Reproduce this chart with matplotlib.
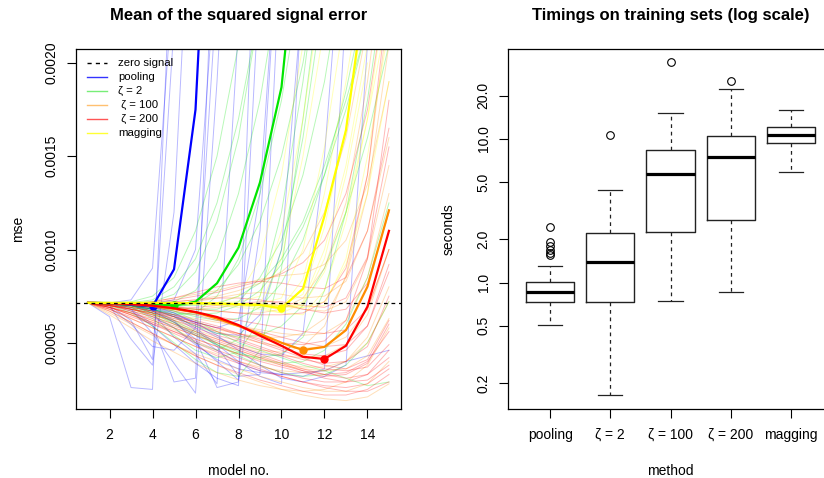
import numpy as np
import matplotlib
matplotlib.use("Agg")
import matplotlib.pyplot as plt

plt.rcParams['font.family'] = ['Liberation Sans', 'DejaVu Sans']

# ---- left panel: mean squared signal error per model number ----
zero_signal = 7.14e-4

pooling_mean = [7.14e-4, 7.12e-4, 7.05e-4, 6.95e-4, 8.94e-4, 1.75e-3, 4.0e-3]
zeta2_mean = [7.14e-4, 7.13e-4, 7.1e-4, 7.07e-4, 7.0e-4, 7.2e-4, 8.19e-4, 1.01e-3,
              1.36e-3, 1.87e-3, 3.0e-3]
zeta100_mean = [7.14e-4, 7.12e-4, 7.08e-4, 6.98e-4, 6.82e-4, 6.63e-4, 6.3e-4, 5.9e-4,
                5.48e-4, 5.0e-4, 4.61e-4, 4.78e-4, 5.68e-4, 8.01e-4, 1.21e-3]
zeta200_mean = [7.14e-4, 7.12e-4, 7.08e-4, 6.99e-4, 6.85e-4, 6.65e-4, 6.38e-4, 5.95e-4,
                5.38e-4, 4.84e-4, 4.25e-4, 4.13e-4, 4.84e-4, 6.94e-4, 1.10e-3]
magging_mean = [7.14e-4, 7.14e-4, 7.14e-4, 7.14e-4, 7.13e-4, 7.12e-4, 7.1e-4, 7.07e-4,
                7.02e-4, 6.85e-4, 7.9e-4, 1.18e-3, 1.64e-3, 2.5e-3]

# single training runs (thin lines)
pooling_runs = [
    [7.14e-4, 6.4e-4, 2.6e-4, 2.5e-4, 3.0e-3],
    [7.14e-4, 7.0e-4, 5.2e-4, 3.8e-4, 1.2e-3, 3.5e-3],
    [7.14e-4, 7.1e-4, 6.8e-4, 5.5e-4, 3.9e-4, 2.3e-4, 1.9e-3, 4.0e-3],
    [7.14e-4, 7.1e-4, 7.0e-4, 6.6e-4, 5.3e-4, 4.4e-4, 2.8e-4, 2.2e-3],
    [7.14e-4, 7.1e-4, 7.0e-4, 6.8e-4, 6.2e-4, 5.0e-4, 4.0e-4, 3.0e-4, 1.1e-3, 3.0e-3],
    [7.14e-4, 7.1e-4, 7.05e-4, 6.9e-4, 6.5e-4, 5.8e-4, 4.9e-4, 4.0e-4, 3.2e-4, 2.8e-4, 2.5e-3],
    [7.14e-4, 7.1e-4, 6.9e-4, 6.4e-4, 5.8e-4, 4.9e-4, 4.1e-4, 3.6e-4, 3.4e-4, 3.3e-4,
     3.4e-4, 3.5e-4, 4.0e-4, 4.3e-4, 4.6e-4],
    [7.14e-4, 7.14e-4, 7.3e-4, 9.0e-4, 2.5e-3],
    [7.14e-4, 6.9e-4, 6.0e-4, 4.8e-4, 4.6e-4, 5.8e-4, 2.4e-3],
    [7.14e-4, 7.14e-4, 7.1e-4, 7.0e-4, 6.6e-4, 6.0e-4, 5.5e-4, 5.4e-4, 6.5e-4, 1.0e-3, 2.4e-3],
    [7.14e-4, 7.1e-4, 7.0e-4, 6.7e-4, 6.1e-4, 5.4e-4, 4.6e-4, 3.9e-4, 3.5e-4, 3.3e-4,
     3.2e-4, 3.6e-4, 2.3e-3],
    [7.14e-4, 7.0e-4, 6.2e-4, 4.1e-4, 2.2e-3],
    [7.14e-4, 7.1e-4, 6.8e-4, 6.0e-4, 2.9e-4, 3.1e-4, 3.2e-3],
    [7.14e-4, 7.1e-4, 7.0e-4, 6.7e-4, 6.1e-4, 5.2e-4, 2.6e-4, 2.9e-4, 3.6e-3],
    [7.14e-4, 7.1e-4, 7.0e-4, 6.8e-4, 6.4e-4, 5.7e-4, 4.8e-4, 3.2e-4, 3.3e-4, 2.7e-3],
    [7.14e-4, 7.1e-4, 7.05e-4, 6.9e-4, 6.6e-4, 6.1e-4, 5.4e-4, 4.6e-4, 3.8e-4, 3.1e-4,
     2.9e-4, 3.2e-4, 3.8e-4, 2.1e-3],
    [7.14e-4, 7.14e-4, 7.1e-4, 7.1e-4, 7.3e-4, 1.0e-3, 2.6e-3],
    [7.14e-4, 7.1e-4, 7.0e-4, 6.8e-4, 6.5e-4, 6.1e-4, 5.8e-4, 6.2e-4, 1.3e-3, 3.0e-3],
    [7.14e-4, 7.1e-4, 7.0e-4, 6.8e-4, 6.4e-4, 5.9e-4, 5.3e-4, 4.8e-4, 4.4e-4, 4.3e-4,
     5.5e-4, 1.5e-3, 3.0e-3],
    [7.14e-4, 7.05e-4, 6.7e-4, 5.9e-4, 4.9e-4, 3.9e-4, 3.1e-4, 2.7e-4, 2.5e-3],
]

zeta2_runs = [
    [7.14e-4, 7.1e-4, 7.1e-4, 7.2e-4, 7.6e-4, 8.8e-4, 1.15e-3, 1.6e-3, 2.3e-3],
    [7.14e-4, 7.1e-4, 7.0e-4, 6.8e-4, 6.5e-4, 6.6e-4, 7.5e-4, 9.5e-4, 1.3e-3, 1.8e-3, 2.5e-3],
    [7.14e-4, 7.1e-4, 6.9e-4, 6.5e-4, 5.8e-4, 5.0e-4, 4.6e-4, 5.2e-4, 7.5e-4, 1.2e-3,
     1.9e-3, 2.8e-3],
    [7.14e-4, 7.14e-4, 7.1e-4, 7.0e-4, 6.9e-4, 6.8e-4, 6.8e-4, 7.2e-4, 8.5e-4, 1.05e-3,
     1.4e-3, 1.9e-3, 2.6e-3],
    [7.14e-4, 7.1e-4, 7.0e-4, 6.6e-4, 6.0e-4, 5.4e-4, 4.9e-4, 4.4e-4, 4.2e-4, 4.4e-4,
     5.3e-4, 7.8e-4, 1.2e-3, 1.8e-3, 2.6e-3],
    [7.14e-4, 7.1e-4, 7.1e-4, 7.0e-4, 6.7e-4, 6.2e-4, 5.6e-4, 5.0e-4, 4.6e-4, 4.2e-4,
     3.8e-4, 3.5e-4, 3.1e-4, 2.7e-4, 2.9e-4],
    [7.14e-4, 7.14e-4, 7.2e-4, 7.5e-4, 8.5e-4, 1.1e-3, 1.5e-3, 2.1e-3],
    [7.14e-4, 7.1e-4, 7.0e-4, 6.9e-4, 6.7e-4, 6.4e-4, 6.2e-4, 6.3e-4, 6.9e-4, 8.2e-4,
     1.05e-3, 1.4e-3, 1.85e-3, 2.4e-3],
    [7.14e-4, 7.0e-4, 6.6e-4, 5.9e-4, 5.0e-4, 4.1e-4, 3.4e-4, 3.2e-4, 4.6e-4, 9.0e-4,
     1.7e-3, 2.6e-3],
    [7.14e-4, 7.1e-4, 7.1e-4, 7.1e-4, 7.0e-4, 7.0e-4, 7.1e-4, 7.5e-4, 8.2e-4, 9.5e-4,
     1.15e-3, 1.45e-3, 1.8e-3, 2.2e-3],
    [7.14e-4, 7.1e-4, 7.0e-4, 6.8e-4, 6.4e-4, 5.9e-4, 5.5e-4, 5.3e-4, 5.4e-4, 5.9e-4,
     7.0e-4, 9.0e-4, 1.2e-3, 1.6e-3, 2.1e-3],
    [7.14e-4, 7.14e-4, 7.1e-4, 7.1e-4, 7.2e-4, 7.8e-4, 9.5e-4, 1.3e-3, 1.8e-3, 2.5e-3],
    [7.14e-4, 7.1e-4, 7.0e-4, 6.7e-4, 6.2e-4, 5.6e-4, 5.0e-4, 4.5e-4, 4.1e-4, 3.9e-4,
     4.0e-4, 4.6e-4, 6.0e-4, 8.5e-4, 1.25e-3],
    [7.14e-4, 7.1e-4, 6.9e-4, 6.3e-4, 5.4e-4, 4.6e-4, 4.2e-4, 4.5e-4, 6.2e-4, 1.0e-3,
     1.6e-3, 2.4e-3],
    [7.14e-4, 7.1e-4, 7.0e-4, 6.9e-4, 6.9e-4, 7.1e-4, 7.8e-4, 9.2e-4, 1.15e-3, 1.5e-3,
     2.0e-3, 2.7e-3],
    [7.14e-4, 7.14e-4, 7.15e-4, 7.3e-4, 8.0e-4, 9.5e-4, 1.25e-3, 1.7e-3, 2.3e-3],
    [7.14e-4, 7.1e-4, 7.0e-4, 6.8e-4, 6.6e-4, 6.5e-4, 6.6e-4, 7.0e-4, 7.8e-4, 9.2e-4,
     1.12e-3, 1.4e-3, 1.75e-3, 2.2e-3],
    [7.14e-4, 7.1e-4, 6.95e-4, 6.6e-4, 6.1e-4, 5.5e-4, 4.9e-4, 4.3e-4, 3.8e-4, 3.4e-4,
     3.2e-4, 3.3e-4, 3.8e-4, 5.0e-4, 7.2e-4],
]

zeta100_runs = [
    [7.14e-4, 7.0e-4, 6.8e-4, 6.5e-4, 6.2e-4, 5.9e-4, 5.6e-4, 5.3e-4, 5.0e-4, 4.8e-4,
     4.7e-4, 4.8e-4, 5.3e-4, 6.8e-4, 1.0e-3],
    [7.14e-4, 6.8e-4, 6.3e-4, 5.8e-4, 5.3e-4, 4.8e-4, 4.4e-4, 4.0e-4, 3.7e-4, 3.5e-4,
     3.4e-4, 3.5e-4, 4.0e-4, 5.3e-4, 8.0e-4],
    [7.14e-4, 7.1e-4, 7.0e-4, 7.0e-4, 7.1e-4, 7.2e-4, 7.4e-4, 7.6e-4, 7.7e-4, 7.6e-4,
     7.4e-4, 7.5e-4, 8.3e-4, 1.1e-3, 1.6e-3],
    [7.14e-4, 6.6e-4, 6.0e-4, 5.4e-4, 4.9e-4, 4.4e-4, 4.0e-4, 3.6e-4, 3.2e-4, 2.9e-4,
     2.6e-4, 2.4e-4, 2.4e-4, 2.8e-4, 4.0e-4],
    [7.14e-4, 7.0e-4, 6.9e-4, 6.7e-4, 6.5e-4, 6.3e-4, 6.1e-4, 5.9e-4, 5.7e-4, 5.5e-4,
     5.4e-4, 5.5e-4, 6.2e-4, 8.5e-4, 1.3e-3],
    [7.14e-4, 6.9e-4, 6.5e-4, 6.1e-4, 5.7e-4, 5.2e-4, 4.8e-4, 4.4e-4, 4.1e-4, 3.8e-4,
     3.6e-4, 3.5e-4, 3.6e-4, 4.3e-4, 6.3e-4],
    [7.14e-4, 7.1e-4, 7.0e-4, 6.9e-4, 6.8e-4, 6.8e-4, 6.9e-4, 7.0e-4, 7.1e-4, 7.0e-4,
     6.8e-4, 6.7e-4, 7.2e-4, 9.5e-4, 1.45e-3],
    [7.14e-4, 6.7e-4, 6.1e-4, 5.5e-4, 4.9e-4, 4.3e-4, 3.8e-4, 3.3e-4, 2.9e-4, 2.5e-4,
     2.2e-4, 2.0e-4, 1.9e-4, 2.1e-4, 2.8e-4],
    [7.14e-4, 7.0e-4, 6.7e-4, 6.4e-4, 6.0e-4, 5.6e-4, 5.2e-4, 4.8e-4, 4.5e-4, 4.3e-4,
     4.2e-4, 4.3e-4, 4.9e-4, 6.5e-4, 1.0e-3],
    [7.14e-4, 7.1e-4, 7.1e-4, 7.2e-4, 7.4e-4, 7.6e-4, 7.8e-4, 8.1e-4, 8.4e-4, 8.6e-4,
     8.7e-4, 9.2e-4, 1.05e-3, 1.35e-3, 1.9e-3],
    [7.14e-4, 6.9e-4, 6.6e-4, 6.2e-4, 5.8e-4, 5.4e-4, 5.0e-4, 4.6e-4, 4.2e-4, 3.9e-4,
     3.7e-4, 3.7e-4, 4.0e-4, 5.0e-4, 7.2e-4],
    [7.14e-4, 7.0e-4, 6.8e-4, 6.6e-4, 6.3e-4, 6.0e-4, 5.7e-4, 5.5e-4, 5.3e-4, 5.3e-4,
     5.5e-4, 6.3e-4, 8.5e-4, 1.3e-3, 2.1e-3],
    [7.14e-4, 6.5e-4, 5.8e-4, 5.1e-4, 4.5e-4, 3.9e-4, 3.4e-4, 3.0e-4, 2.7e-4, 2.5e-4,
     2.4e-4, 2.5e-4, 2.9e-4, 3.8e-4, 5.8e-4],
    [7.14e-4, 7.1e-4, 7.05e-4, 7.0e-4, 6.9e-4, 6.8e-4, 6.7e-4, 6.6e-4, 6.6e-4, 6.8e-4,
     7.4e-4, 9.0e-4, 1.25e-3, 1.9e-3, 2.8e-3],
    [7.14e-4, 7.0e-4, 6.8e-4, 6.5e-4, 6.1e-4, 5.7e-4, 5.3e-4, 4.9e-4, 4.6e-4, 4.5e-4,
     4.8e-4, 5.9e-4, 8.6e-4, 1.4e-3, 2.3e-3],
    [7.14e-4, 7.1e-4, 7.1e-4, 7.1e-4, 7.2e-4, 7.3e-4, 7.5e-4, 7.8e-4, 8.2e-4, 8.8e-4,
     9.8e-4, 1.2e-3, 1.6e-3, 2.2e-3],
]

zeta200_runs = [
    [7.14e-4, 7.0e-4, 6.8e-4, 6.6e-4, 6.3e-4, 6.0e-4, 5.6e-4, 5.2e-4, 4.8e-4, 4.4e-4,
     4.1e-4, 3.9e-4, 4.0e-4, 4.8e-4, 7.5e-4],
    [7.14e-4, 6.9e-4, 6.5e-4, 6.1e-4, 5.6e-4, 5.1e-4, 4.6e-4, 4.2e-4, 3.8e-4, 3.4e-4,
     3.1e-4, 2.9e-4, 2.9e-4, 3.3e-4, 4.6e-4],
    [7.14e-4, 7.1e-4, 7.1e-4, 7.1e-4, 7.2e-4, 7.3e-4, 7.4e-4, 7.4e-4, 7.3e-4, 7.1e-4,
     6.8e-4, 6.6e-4, 6.8e-4, 8.2e-4, 1.2e-3],
    [7.14e-4, 7.0e-4, 6.7e-4, 6.4e-4, 6.0e-4, 5.6e-4, 5.2e-4, 4.8e-4, 4.4e-4, 4.0e-4,
     3.6e-4, 3.3e-4, 3.1e-4, 3.3e-4, 4.2e-4],
    [7.14e-4, 7.1e-4, 7.0e-4, 6.9e-4, 6.8e-4, 6.6e-4, 6.4e-4, 6.2e-4, 6.0e-4, 5.8e-4,
     5.6e-4, 5.5e-4, 5.7e-4, 6.8e-4, 1.0e-3],
    [7.14e-4, 6.8e-4, 6.3e-4, 5.8e-4, 5.3e-4, 4.8e-4, 4.3e-4, 3.9e-4, 3.5e-4, 3.2e-4,
     2.9e-4, 2.7e-4, 2.6e-4, 2.8e-4, 3.6e-4],
    [7.14e-4, 7.0e-4, 6.9e-4, 6.7e-4, 6.5e-4, 6.2e-4, 5.9e-4, 5.5e-4, 5.1e-4, 4.7e-4,
     4.4e-4, 4.3e-4, 4.6e-4, 5.9e-4, 9.2e-4],
    [7.14e-4, 7.1e-4, 7.1e-4, 7.0e-4, 6.9e-4, 6.9e-4, 7.0e-4, 7.1e-4, 7.2e-4, 7.2e-4,
     7.0e-4, 6.9e-4, 7.4e-4, 9.6e-4, 1.55e-3],
    [7.14e-4, 6.9e-4, 6.6e-4, 6.2e-4, 5.8e-4, 5.4e-4, 5.0e-4, 4.6e-4, 4.2e-4, 3.8e-4,
     3.5e-4, 3.3e-4, 3.4e-4, 4.0e-4, 5.6e-4],
    [7.14e-4, 7.0e-4, 6.8e-4, 6.5e-4, 6.2e-4, 5.8e-4, 5.4e-4, 5.1e-4, 4.7e-4, 4.3e-4,
     3.9e-4, 3.6e-4, 3.5e-4, 3.7e-4, 4.9e-4],
    [7.14e-4, 6.7e-4, 6.1e-4, 5.5e-4, 4.9e-4, 4.3e-4, 3.8e-4, 3.4e-4, 3.0e-4, 2.7e-4,
     2.4e-4, 2.2e-4, 2.2e-4, 2.5e-4, 3.3e-4],
    [7.14e-4, 7.1e-4, 7.0e-4, 6.9e-4, 6.7e-4, 6.5e-4, 6.2e-4, 5.9e-4, 5.6e-4, 5.3e-4,
     5.0e-4, 4.8e-4, 4.9e-4, 5.9e-4, 8.8e-4],
    [7.14e-4, 7.1e-4, 7.1e-4, 7.2e-4, 7.4e-4, 7.7e-4, 8.0e-4, 8.2e-4, 8.3e-4, 8.2e-4,
     8.0e-4, 7.9e-4, 8.5e-4, 1.1e-3, 1.65e-3],
    [7.14e-4, 6.9e-4, 6.6e-4, 6.3e-4, 5.9e-4, 5.5e-4, 5.1e-4, 4.7e-4, 4.3e-4, 3.9e-4,
     3.5e-4, 3.1e-4, 2.9e-4, 3.0e-4, 3.8e-4],
    [7.14e-4, 7.0e-4, 6.8e-4, 6.6e-4, 6.4e-4, 6.1e-4, 5.8e-4, 5.4e-4, 5.0e-4, 4.6e-4,
     4.2e-4, 3.8e-4, 3.6e-4, 4.1e-4, 6.2e-4],
    [7.14e-4, 7.05e-4, 6.9e-4, 6.7e-4, 6.4e-4, 6.1e-4, 5.8e-4, 5.5e-4, 5.2e-4, 5.0e-4,
     4.9e-4, 5.1e-4, 6.2e-4, 9.5e-4, 1.8e-3],
    [7.14e-4, 7.1e-4, 7.05e-4, 7.0e-4, 6.9e-4, 6.8e-4, 6.7e-4, 6.6e-4, 6.5e-4, 6.5e-4,
     6.6e-4, 7.2e-4, 9.0e-4, 1.4e-3, 2.4e-3],
    [7.14e-4, 6.8e-4, 6.4e-4, 6.0e-4, 5.6e-4, 5.2e-4, 4.8e-4, 4.4e-4, 4.0e-4, 3.7e-4,
     3.4e-4, 3.2e-4, 3.3e-4, 3.9e-4, 6.0e-4],
    [7.14e-4, 7.1e-4, 7.1e-4, 7.15e-4, 7.3e-4, 7.5e-4, 7.7e-4, 8.0e-4, 8.3e-4, 8.7e-4,
     9.3e-4, 1.05e-3, 1.3e-3, 1.75e-3, 2.5e-3],
    [7.14e-4, 6.9e-4, 6.5e-4, 6.0e-4, 5.5e-4, 5.0e-4, 4.5e-4, 4.0e-4, 3.6e-4, 3.2e-4,
     2.9e-4, 2.6e-4, 2.4e-4, 2.4e-4, 2.9e-4],
]

magging_runs = [
    [7.14e-4, 7.14e-4, 7.14e-4, 7.14e-4, 7.13e-4, 7.12e-4, 7.1e-4, 7.05e-4, 7.0e-4,
     6.9e-4, 8.4e-4, 1.3e-3, 1.9e-3, 2.6e-3],
    [7.14e-4, 7.14e-4, 7.14e-4, 7.14e-4, 7.14e-4, 7.13e-4, 7.12e-4, 7.1e-4, 7.1e-4,
     9.5e-4, 1.5e-3, 2.2e-3],
    [7.14e-4, 7.14e-4, 7.14e-4, 7.13e-4, 7.12e-4, 7.1e-4, 7.05e-4, 7.0e-4, 6.9e-4,
     6.8e-4, 7.2e-4, 1.0e-3, 1.45e-3, 2.1e-3],
    [7.14e-4, 7.14e-4, 7.14e-4, 7.14e-4, 7.13e-4, 7.12e-4, 7.1e-4, 7.08e-4, 7.05e-4,
     7.0e-4, 7.0e-4, 8.8e-4, 1.2e-3, 1.7e-3, 2.3e-3],
    [7.14e-4, 7.14e-4, 7.14e-4, 7.14e-4, 7.14e-4, 7.14e-4, 7.14e-4, 7.2e-4, 7.5e-4,
     1.1e-3, 1.7e-3, 2.5e-3],
    [7.14e-4, 7.14e-4, 7.13e-4, 7.12e-4, 7.1e-4, 7.05e-4, 7.0e-4, 6.9e-4, 6.8e-4,
     6.6e-4, 6.5e-4, 7.8e-4, 1.15e-3, 1.7e-3, 2.5e-3],
    [7.14e-4, 7.14e-4, 7.14e-4, 7.14e-4, 7.14e-4, 7.14e-4, 7.15e-4, 7.5e-4, 9.5e-4,
     1.4e-3, 2.1e-3],
    [7.14e-4, 7.14e-4, 7.14e-4, 7.14e-4, 7.13e-4, 7.12e-4, 7.1e-4, 7.1e-4, 7.05e-4,
     7.0e-4, 7.6e-4, 1.12e-3, 1.65e-3, 2.4e-3],
    [7.14e-4, 7.14e-4, 7.14e-4, 7.14e-4, 7.14e-4, 7.13e-4, 7.12e-4, 7.1e-4, 7.0e-4,
     6.95e-4, 6.9e-4, 7.2e-4, 9.2e-4, 1.3e-3, 1.9e-3],
    [7.14e-4, 7.14e-4, 7.14e-4, 7.14e-4, 7.14e-4, 7.14e-4, 7.13e-4, 7.12e-4, 7.1e-4,
     7.4e-4, 1.0e-3, 1.55e-3, 2.3e-3],
    [7.14e-4, 7.14e-4, 7.14e-4, 7.14e-4, 7.13e-4, 7.12e-4, 7.1e-4, 7.08e-4, 7.05e-4,
     7.0e-4, 6.9e-4, 7.0e-4, 9.5e-4, 1.5e-3, 2.2e-3],
    [7.14e-4, 7.14e-4, 7.14e-4, 7.13e-4, 7.12e-4, 7.1e-4, 7.05e-4, 7.0e-4, 6.9e-4,
     6.6e-4, 7.1e-4, 9.5e-4, 1.4e-3, 2.0e-3],
]

# ---- right panel: timings (seconds) ----
methods = ['pooling', 'ζ = 2', 'ζ = 100', 'ζ = 200', 'magging']
t_q1 = [0.733, 0.733, 2.25, 2.74, 9.32]
t_med = [0.857, 1.387, 5.75, 7.53, 10.66]
t_q3 = [1.006, 2.22, 8.42, 10.55, 12.05]
t_lo = [0.509, 0.164, 0.745, 0.865, 5.92]
t_hi = [1.314, 4.43, 15.1, 22.3, 16.0]
t_out = [[2.45, 1.92, 1.8, 1.7, 1.62, 1.55], [10.6], [34.2], [25.5], []]

BLUE, GREEN, ORANGE, RED, YELLOW = '#0000FF', '#00E600', '#FF8C00', '#FF0000', '#FFFF00'

fig = plt.figure(figsize=(8.24, 4.78), dpi=100)
ax1 = fig.add_axes([76 / 824, 69 / 478, 325 / 824, 360 / 478])
ax2 = fig.add_axes([508 / 824, 69 / 478, 325 / 824, 360 / 478])

for ax in (ax1, ax2):
    for s in ax.spines.values():
        s.set_linewidth(0.9)
    ax.tick_params(direction='out', length=6.5, width=0.8, labelsize=10, pad=6)

# thin lines
groups = [(pooling_runs, BLUE), (zeta2_runs, GREEN), (zeta100_runs, ORANGE),
          (zeta200_runs, RED), (magging_runs, YELLOW)]
for runs, col in groups:
    for vals in runs:
        ax1.plot(np.arange(1, len(vals) + 1), vals, color=col, alpha=0.28, lw=0.7)

# bold mean lines with dot at the minimum
for vals, col in [(pooling_mean, BLUE), (zeta2_mean, GREEN), (zeta100_mean, ORANGE),
                  (zeta200_mean, RED), (magging_mean, YELLOW)]:
    x = np.arange(1, len(vals) + 1)
    ax1.plot(x, vals, color=col, lw=1.6)
    i = int(np.argmin(vals))
    ax1.plot(x[i], vals[i], 'o', color=col, ms=5)

ax1.axhline(zero_signal, color='black', lw=0.9, ls=(0, (3, 3)))

ax1.set_xlim(0.44, 15.56)
ax1.set_ylim(0.000145, 0.002075)
ax1.set_xticks([2, 4, 6, 8, 10, 12, 14])
yt = [0.0005, 0.0010, 0.0015, 0.0020]
ax1.set_yticks(yt)
ax1.set_yticklabels(['%.4f' % v for v in yt], rotation=90, va='center')
ax1.tick_params(axis='x', pad=7)
ax1.set_xlabel('model no.', fontsize=10)
ax1.xaxis.set_label_coords(0.5, -0.153)
ax1.set_ylabel('mse', fontsize=10)
ax1.yaxis.set_label_coords(-0.157, 0.5)
ax1.text(0.5, 1.092, 'Mean of the squared signal error', transform=ax1.transAxes,
         ha='center', va='center', fontsize=12, fontweight='bold')

# legend drawn by hand like R's legend(bty = "n")
leg_labels = ['zero signal', 'pooling', 'ζ = 2', ' ζ = 100', ' ζ = 200', 'magging']
leg_colors = ['black', '#3333FF', '#77EE77', '#FFC070', '#FF5555', '#FFFF33']
for k, (lab, col) in enumerate(zip(leg_labels, leg_colors)):
    yy = 0.962 - k * 0.0389
    ls = (0, (3, 3)) if k == 0 else '-'
    ax1.plot([0.033, 0.096], [yy, yy], transform=ax1.transAxes, color=col, lw=1.0, ls=ls)
    ax1.text(0.129, yy, lab, transform=ax1.transAxes, ha='left', va='center', fontsize=8.2)

# boxplots
stats = []
for k in range(len(methods)):
    stats.append(dict(med=t_med[k], q1=t_q1[k], q3=t_q3[k], whislo=t_lo[k],
                      whishi=t_hi[k], fliers=t_out[k], label=methods[k]))
ax2.bxp(stats, positions=np.arange(1, 6), widths=0.8, capwidths=0.4,
        boxprops=dict(color='#222222', lw=1.0),
        medianprops=dict(color='black', lw=2.3),
        whiskerprops=dict(color='#222222', lw=0.9, ls=(0, (3, 3))),
        capprops=dict(color='#222222', lw=0.9),
        flierprops=dict(marker='o', markerfacecolor='none', markeredgecolor='black',
                        markersize=5.5, markeredgewidth=0.8))
ax2.set_yscale('log')
ax2.set_ylim(0.1316, 42.4)
ax2.set_xlim(0.3, 5.7)
ticks = [0.2, 0.5, 1.0, 2.0, 5.0, 10.0, 20.0]
ax2.set_yticks(ticks)
ax2.set_yticklabels(['%.1f' % v for v in ticks], rotation=90, va='center')
ax2.yaxis.set_minor_locator(matplotlib.ticker.NullLocator())
ax2.tick_params(axis='x', pad=7)
ax2.set_xlabel('method', fontsize=10)
ax2.xaxis.set_label_coords(0.5, -0.153)
ax2.set_ylabel('seconds', fontsize=10)
ax2.yaxis.set_label_coords(-0.16, 0.5)
ax2.text(0.5, 1.092, 'Timings on training sets (log scale)', transform=ax2.transAxes,
         ha='center', va='center', fontsize=12, fontweight='bold')

fig.savefig('out.png', dpi=100)
